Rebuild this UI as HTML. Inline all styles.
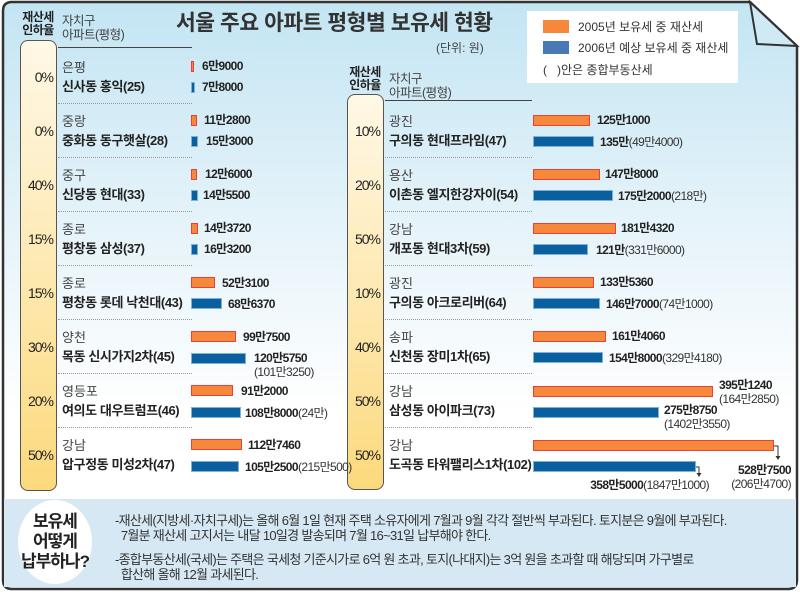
<!DOCTYPE html>
<html><head><meta charset="utf-8"><style>
*{margin:0;padding:0;box-sizing:border-box}
body{width:800px;height:592px;position:relative;overflow:hidden;background:#fff;font-family:"Liberation Sans","Noto Sans CJK KR",sans-serif;color:#222}
.a{position:absolute;white-space:nowrap}
.o{position:absolute;height:11px;background:#f5883a;border:1px solid #e8403a}
.b{position:absolute;height:11px;background:#0a5f9e;border:1px solid #7fb0d8}
.v{position:absolute;white-space:nowrap;font-size:12px;font-weight:bold;letter-spacing:-0.6px;line-height:14px;color:#222}
.v i{font-style:normal;font-weight:normal;color:#333}
.rg{position:absolute;font-size:13px;line-height:16px;color:#444;white-space:nowrap}
.nm{position:absolute;font-size:13px;line-height:16px;font-weight:bold;color:#222;white-space:nowrap;letter-spacing:-0.4px}
.pc{position:absolute;font-size:14px;line-height:16px;color:#222;letter-spacing:-1px;text-align:right}
.dv{position:absolute;height:0;border-top:1px dotted #999}
.col{position:absolute;border:1.5px solid #555;border-radius:8px;background:linear-gradient(#fff8e6,#fde6a8 60%,#fcd97c)}
.hd{position:absolute;font-size:12px;font-weight:bold;line-height:13px;text-align:center;color:#222;letter-spacing:-0.5px}
.hs{position:absolute;font-size:12.5px;line-height:14px;color:#444;letter-spacing:-0.5px}
</style></head><body>
<svg class="a" style="left:0;top:0" width="800" height="592">
<defs><linearGradient id="g" x1="0" y1="0" x2="0" y2="1"><stop offset="0" stop-color="#c3e5f3"/><stop offset="0.35" stop-color="#e3f2f9"/><stop offset="0.7" stop-color="#ffffff"/></linearGradient></defs>
<path d="M12,2 H750 L797,46 V580 Q797,589 788,589 H12 Q3,589 3,580 V11 Q3,2 12,2 Z" fill="url(#g)" stroke="#333" stroke-width="2.5"/>
<rect x="4" y="499" width="792" height="88" fill="#d5e8f3"/>
<path d="M750,2 L757,44 L797,46 Z" fill="#cfe9f5" stroke="#333" stroke-width="2"/>
<ellipse cx="55" cy="542" rx="37" ry="42" fill="#fff"/>
</svg>
<div class="a" style="left:176px;top:9px;font-size:21.5px;font-weight:bold;color:#333;letter-spacing:-0.5px;line-height:28px">서울 주요 아파트 평형별 보유세 현황</div>
<div class="a" style="left:436px;top:41px;font-size:12px;color:#444;line-height:14px">(단위: 원)</div>
<div class="a" style="left:527px;top:11px;width:211px;height:72px;background:#fff"></div>
<div class="a" style="left:543px;top:20px;width:26px;height:13px;background:#f5883a"></div>
<div class="a" style="left:543px;top:41px;width:26px;height:13px;background:#4a78b4"></div>
<div class="a" style="left:578px;top:20px;font-size:12px;line-height:14px;color:#333">2005년 보유세 중 재산세</div>
<div class="a" style="left:578px;top:41px;font-size:12px;line-height:14px;color:#333">2006년 예상 보유세 중 재산세</div>
<div class="a" style="left:543px;top:63px;font-size:12px;line-height:14px;color:#333">(&nbsp;&nbsp;&nbsp;)안은 종합부동산세</div>

<div class="hd" style="left:18px;top:11px;width:40px">재산세<br>인하율</div>
<div class="hs" style="left:62px;top:14px">자치구<br>아파트(평형)</div>
<div class="a" style="left:58px;top:47px;width:134px;border-top:1.5px solid #444"></div>
<div class="col" style="left:20px;top:40px;width:37px;height:451px"></div>
<div class="hd" style="left:345px;top:66px;width:40px">재산세<br>인하율</div>
<div class="hs" style="left:389px;top:72px">자치구<br>아파트(평형)</div>
<div class="a" style="left:385px;top:100px;width:147px;border-top:1.5px solid #444"></div>
<div class="col" style="left:347px;top:94px;width:37px;height:396px"></div>

<div class="dv" style="left:58px;top:103px;width:134px"></div>
<div class="dv" style="left:58px;top:157px;width:134px"></div>
<div class="dv" style="left:58px;top:211px;width:134px"></div>
<div class="dv" style="left:58px;top:265px;width:134px"></div>
<div class="dv" style="left:58px;top:319px;width:134px"></div>
<div class="dv" style="left:58px;top:373px;width:134px"></div>
<div class="dv" style="left:58px;top:427px;width:134px"></div>
<div class="dv" style="left:385px;top:157px;width:147px"></div>
<div class="dv" style="left:385px;top:211px;width:147px"></div>
<div class="dv" style="left:385px;top:265px;width:147px"></div>
<div class="dv" style="left:385px;top:319px;width:147px"></div>
<div class="dv" style="left:385px;top:373px;width:147px"></div>
<div class="dv" style="left:385px;top:427px;width:147px"></div>

<div class="pc" style="left:18px;top:69px;width:35px">0%</div>
<div class="rg" style="left:62px;top:60px">은평</div><div class="nm" style="left:62px;top:79px">신사동 홍익(25)</div>
<div class="o" style="left:191px;top:61px;width:3px"></div><div class="v" style="left:202px;top:59px">6만9000</div>
<div class="b" style="left:191px;top:82px;width:4px"></div><div class="v" style="left:202px;top:80px">7만8000</div>

<div class="pc" style="left:18px;top:123px;width:35px">0%</div>
<div class="rg" style="left:62px;top:114px">중랑</div><div class="nm" style="left:62px;top:133px">중화동 동구햇살(28)</div>
<div class="o" style="left:191px;top:115px;width:6px"></div><div class="v" style="left:204px;top:113px">11만2800</div>
<div class="b" style="left:191px;top:136px;width:7px"></div><div class="v" style="left:206px;top:134px">15만3000</div>

<div class="pc" style="left:18px;top:177px;width:35px">40%</div>
<div class="rg" style="left:62px;top:168px">중구</div><div class="nm" style="left:62px;top:187px">신당동 현대(33)</div>
<div class="o" style="left:191px;top:169px;width:6px"></div><div class="v" style="left:205px;top:167px">12만6000</div>
<div class="b" style="left:191px;top:190px;width:7px"></div><div class="v" style="left:203px;top:188px">14만5500</div>

<div class="pc" style="left:18px;top:231px;width:35px">15%</div>
<div class="rg" style="left:62px;top:222px">종로</div><div class="nm" style="left:62px;top:241px">평창동 삼성(37)</div>
<div class="o" style="left:191px;top:223px;width:7px"></div><div class="v" style="left:204px;top:221px">14만3720</div>
<div class="b" style="left:191px;top:244px;width:7px"></div><div class="v" style="left:204px;top:242px">16만3200</div>

<div class="pc" style="left:18px;top:285px;width:35px">15%</div>
<div class="rg" style="left:62px;top:276px">종로</div><div class="nm" style="left:62px;top:295px">평창동 롯데 낙천대(43)</div>
<div class="o" style="left:191px;top:277px;width:24px"></div><div class="v" style="left:222px;top:276px">52만3100</div>
<div class="b" style="left:191px;top:298px;width:31px"></div><div class="v" style="left:228px;top:297px">68만6370</div>

<div class="pc" style="left:18px;top:339px;width:35px">30%</div>
<div class="rg" style="left:62px;top:330px">양천</div><div class="nm" style="left:62px;top:349px">목동 신시가지2차(45)</div>
<div class="o" style="left:191px;top:331px;width:45px"></div><div class="v" style="left:243px;top:330px">99만7500</div>
<div class="b" style="left:191px;top:353px;width:55px"></div><div class="v" style="left:254px;top:351px">120만5750<br><i>(101만3250)</i></div>

<div class="pc" style="left:18px;top:393px;width:35px">20%</div>
<div class="rg" style="left:62px;top:384px">영등포</div><div class="nm" style="left:62px;top:403px">여의도 대우트럼프(46)</div>
<div class="o" style="left:191px;top:385px;width:42px"></div><div class="v" style="left:241px;top:384px">91만2000</div>
<div class="b" style="left:191px;top:407px;width:50px"></div><div class="v" style="left:245px;top:406px">108만8000<i>(24만)</i></div>

<div class="pc" style="left:18px;top:447px;width:35px">50%</div>
<div class="rg" style="left:62px;top:438px">강남</div><div class="nm" style="left:62px;top:457px">압구정동 미성2차(47)</div>
<div class="o" style="left:191px;top:439px;width:51px"></div><div class="v" style="left:248px;top:438px">112만7460</div>
<div class="b" style="left:191px;top:461px;width:48px"></div><div class="v" style="left:245px;top:460px">105만2500<i>(215만500)</i></div>

<div class="pc" style="left:345px;top:123px;width:35px">10%</div>
<div class="rg" style="left:389px;top:114px">광진</div><div class="nm" style="left:389px;top:133px">구의동 현대프라임(47)</div>
<div class="o" style="left:533px;top:115px;width:57px"></div><div class="v" style="left:597px;top:113px">125만1000</div>
<div class="b" style="left:533px;top:136px;width:61px"></div><div class="v" style="left:600px;top:135px">135만<i>(49만4000)</i></div>

<div class="pc" style="left:345px;top:177px;width:35px">20%</div>
<div class="rg" style="left:389px;top:168px">용산</div><div class="nm" style="left:389px;top:187px">이촌동 엘지한강자이(54)</div>
<div class="o" style="left:533px;top:169px;width:67px"></div><div class="v" style="left:605px;top:167px">147만8000</div>
<div class="b" style="left:533px;top:190px;width:80px"></div><div class="v" style="left:618px;top:189px">175만2000<i>(218만)</i></div>

<div class="pc" style="left:345px;top:231px;width:35px">50%</div>
<div class="rg" style="left:389px;top:222px">강남</div><div class="nm" style="left:389px;top:241px">개포동 현대3차(59)</div>
<div class="o" style="left:533px;top:223px;width:83px"></div><div class="v" style="left:621px;top:221px">181만4320</div>
<div class="b" style="left:533px;top:244px;width:55px"></div><div class="v" style="left:596px;top:243px">121만<i>(331만6000)</i></div>

<div class="pc" style="left:345px;top:285px;width:35px">10%</div>
<div class="rg" style="left:389px;top:276px">광진</div><div class="nm" style="left:389px;top:295px">구의동 아크로리버(64)</div>
<div class="o" style="left:533px;top:277px;width:61px"></div><div class="v" style="left:600px;top:275px">133만5360</div>
<div class="b" style="left:533px;top:298px;width:67px"></div><div class="v" style="left:606px;top:297px">146만7000<i>(74만1000)</i></div>

<div class="pc" style="left:345px;top:339px;width:35px">40%</div>
<div class="rg" style="left:389px;top:330px">송파</div><div class="nm" style="left:389px;top:349px">신천동 장미1차(65)</div>
<div class="o" style="left:533px;top:331px;width:73px"></div><div class="v" style="left:612px;top:329px">161만4060</div>
<div class="b" style="left:533px;top:352px;width:70px"></div><div class="v" style="left:609px;top:351px">154만8000<i>(329만4180)</i></div>

<div class="pc" style="left:345px;top:393px;width:35px">50%</div>
<div class="rg" style="left:389px;top:384px">강남</div><div class="nm" style="left:389px;top:403px">삼성동 아이파크(73)</div>
<div class="o" style="left:533px;top:386px;width:180px"></div><div class="v" style="left:719px;top:378px">395만1240<br><i>(164만2850)</i></div>
<div class="b" style="left:533px;top:407px;width:126px"></div><div class="v" style="left:664px;top:403px">275만8750<br><i>(1402만3550)</i></div>

<div class="pc" style="left:345px;top:447px;width:35px">50%</div>
<div class="rg" style="left:389px;top:438px">강남</div><div class="nm" style="left:389px;top:457px">도곡동 타워팰리스1차(102)</div>
<div class="o" style="left:533px;top:440px;width:241px"></div>
<div class="b" style="left:533px;top:461px;width:163px"></div>
<svg class="a" style="left:690px;top:440px" width="100" height="40"><path d="M84,6 H88 V18" fill="none" stroke="#333" stroke-width="1"/><path d="M85.5,16 L88,20 L90.5,16 Z" fill="#333"/><path d="M6,27 H9 V35" fill="none" stroke="#333" stroke-width="1"/><path d="M6.5,33 L9,37 L11.5,33 Z" fill="#333"/></svg>
<div class="v" style="left:717px;top:463px;text-align:right;width:74px">528만7500<br><i>(206만4700)</i></div>
<div class="v" style="left:566px;top:478px;width:143px;text-align:right">358만5000<i>(1847만1000)</i></div>

<div class="a" style="left:16px;top:512px;width:78px;text-align:center;font-size:17px;font-weight:bold;line-height:20px;color:#222;letter-spacing:-1px">보유세<br>어떻게<br>납부하나?</div>
<div class="a" style="left:115px;top:513px;font-size:13px;line-height:15px;color:#333;letter-spacing:-0.7px">-재산세(지방세·자치구세)는 올해 6월 1일 현재 주택 소유자에게 7월과 9월 각각 절반씩 부과된다. 토지분은 9월에 부과된다.<br>&nbsp;&nbsp;7월분 재산세 고지서는 내달 10일경 발송되며 7월 16~31일 납부해야 한다.</div>
<div class="a" style="left:115px;top:552px;font-size:13px;line-height:15px;color:#333;letter-spacing:-0.7px">-종합부동산세(국세)는 주택은 국세청 기준시가로 6억 원 초과, 토지(나대지)는 3억 원을 초과할 때 해당되며 가구별로<br>&nbsp;&nbsp;합산해 올해 12월 과세된다.</div>
</body></html>
